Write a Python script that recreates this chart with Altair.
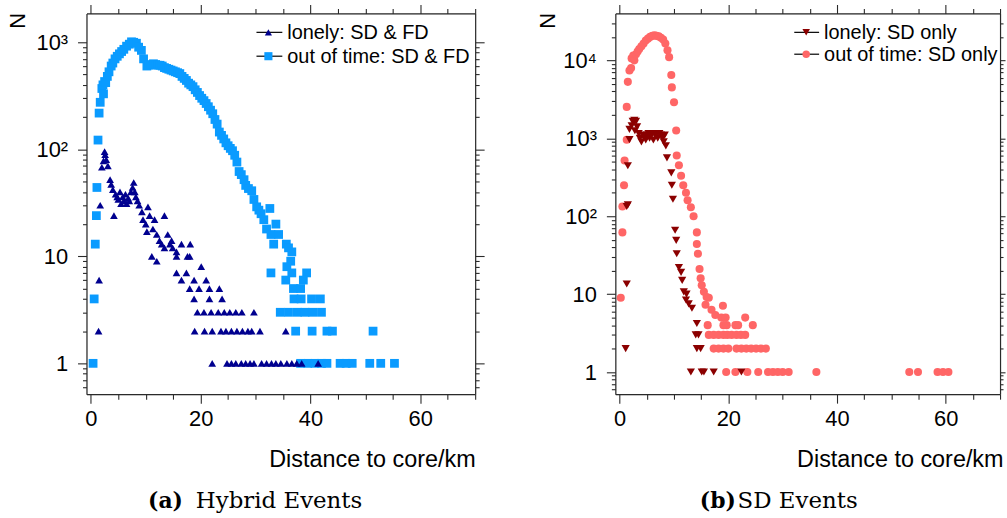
import altair as alt
import pandas as pd

# ---------------- data ----------------
# (a) Hybrid Events
A_OOT_X = [0.4, 0.6, 0.8, 1.0, 1.1, 1.3, 1.5, 1.7, 2.0, 2.2, 2.3, 2.5, 2.7, 3.0, 3.3, 3.7, 4.0, 4.4,
           4.8, 5.2, 5.6, 6.0, 6.5, 7.0, 7.4, 7.8, 8.3, 8.7, 9.2, 9.6, 10.2, 10.6, 11.0, 11.4, 11.8,
           12.2, 12.6, 13.0, 13.4, 13.8, 14.2, 14.6, 15.0, 15.4, 15.8, 16.2, 16.6, 17.0, 17.4, 17.8,
           18.2, 18.6, 19.0, 19.4, 19.8, 20.2, 20.6, 21.0, 21.4, 21.8, 22.2, 22.6, 23.0, 23.4, 23.8,
           24.2, 24.6, 25.0, 25.4, 25.8, 26.2, 26.6, 27.0, 27.4, 27.9, 28.2, 28.7, 29.3, 29.7, 30.2,
           30.6, 31.0, 31.5, 32.0, 32.6, 32.8, 33.3, 33.7, 34.2, 35.6, 36.0, 36.6, 36.4, 35.7, 32.8,
           36.6, 39.3, 35.5, 38.7, 36.9, 38.2, 37.0, 38.3, 40.2, 41.8, 34.5, 36.0, 37.6, 39.0, 40.4,
           42.0, 37.3, 40.3, 43.0, 44.0, 51.4, 38.2, 39.5, 40.8, 42.0, 43.0, 45.4, 46.5, 47.6, 50.8,
           52.8, 55.3]
A_OOT_N = [1, 4, 13, 24, 44, 122, 218, 275, 370, 400, 330, 430, 420, 480, 530, 600, 640, 700,
           740, 780, 820, 860, 920, 960, 1010, 1000, 980, 900, 840, 700, 600, 610, 620, 630, 620,
           610, 610, 600, 580, 570, 560, 550, 540, 530, 520, 510, 480, 460, 440, 415,
           400, 385, 360, 340, 318, 300, 285, 268, 250, 232, 215, 190, 172, 145, 135,
           125, 115, 108, 102, 97, 88, 76, 62, 58, 52, 46, 43, 41, 34, 29,
           27, 25, 22, 18, 28, 16, 13, 20, 16, 13, 12, 11, 9, 8, 7,
           7, 7, 6, 6, 5, 5, 4, 4, 4, 4, 3, 3, 3, 3, 3,
           3, 2, 2, 2, 2, 2, 1, 1, 1, 1, 1, 1, 1, 1, 1,
           1, 1]
A_LON_X = [1.4, 1.5, 1.7, 2.0, 2.3, 2.5, 2.6, 2.8, 3.1, 3.5, 3.7, 4.0, 4.2, 4.5, 4.8, 5.0, 5.3, 5.5,
           5.8, 6.0, 6.3, 6.5, 6.8, 7.0, 7.3, 7.6, 7.8, 8.0, 8.2, 8.5, 8.8, 9.3, 9.5, 10.0, 10.2,
           10.4, 10.7, 11.1, 11.3, 11.6, 12.0, 12.0, 12.5, 12.9, 13.4, 13.4, 14.0, 14.4, 14.7, 14.9,
           15.6, 15.6, 15.6, 16.5, 17.4, 17.6, 18.0, 18.1, 16.5, 18.8, 21.0, 20.1,
           18.0, 19.7, 21.6, 23.4, 18.8, 21.6, 23.9,
           19.4, 20.6, 21.9, 23.2, 24.3, 25.3, 26.4, 27.5, 29.7,
           18.9, 20.7, 22.1, 23.7, 24.6, 25.6, 26.6, 27.6, 28.6, 29.3, 30.8, 35.5,
           22.1, 24.8, 25.6, 26.4, 27.4, 28.2, 29.0, 29.7, 31.1, 32.0, 32.9, 33.7, 34.6, 35.7,
           36.6, 37.5, 38.4, 41.4]
A_LON_N = [2, 6, 30, 68, 78, 95, 89, 80, 70, 52, 47, 42, 24, 38, 36, 34, 40, 31,
           36, 33, 38, 31, 35, 33, 40, 44, 49, 40, 36, 33, 30, 26, 22, 20, 17,
           29, 24, 10, 18, 22, 16, 9, 14, 13, 24, 12, 16, 13, 14, 12,
           10, 11, 7, 13, 7, 10, 10, 13, 6, 6, 6, 8,
           5, 5, 5, 5, 4, 4, 4,
           3, 3, 3, 3, 3, 3, 3, 3, 3,
           2, 2, 2, 2, 2, 2, 2, 2, 2, 2, 2, 2,
           1, 1, 1, 1, 1, 1, 1, 1, 1, 1, 1, 1, 1, 1,
           1, 1, 1, 1]

# (b) SD Events
B_OOT_X = [0.2, 0.5, 0.5, 0.8, 0.9, 1.3, 1.3, 1.5, 1.8, 2.1, 2.2, 2.5, 2.7, 3.0, 3.3, 3.6, 4.0, 4.4,
           4.8, 5.2, 5.6, 6.0, 6.4, 6.8, 7.2, 7.6, 8.0, 8.4, 8.8, 9.1, 9.5, 9.6, 10.0, 10.4, 10.5,
           10.9, 11.3, 11.7, 12.2, 12.5, 13.1, 13.6, 14.2, 14.2, 14.4, 14.7, 14.9, 15.1, 15.5, 16.0,
           16.4, 15.8, 16.9, 19.0, 17.6, 18.7, 19.5, 23.1,
           16.2, 19.1, 19.7, 21.3, 21.8, 24.5,
           16.4, 17.3, 18.2, 19.1, 19.8, 20.6, 21.5, 22.3, 23.1,
           17.3, 18.2, 19.1, 20.0, 21.5, 22.4, 23.3, 24.2, 25.1, 26.0, 26.9,
           19.6, 21.3, 23.5, 25.5, 27.3, 28.2, 29.1, 30.0, 31.1, 36.2, 53.3, 54.9, 58.5, 59.5, 60.5]
B_OOT_N = [9, 62, 133, 250, 520, 960, 2530, 5300, 7400, 8000, 10600, 11500, 10000, 12000, 13000,
           14000, 15200, 16500, 18000, 19000, 20000, 20600, 21000, 20600, 20300, 19500, 18500,
           16500, 13500, 11000, 6500, 4500, 2900, 1260, 600,
           450, 330, 250, 200, 160, 130, 100, 62, 44, 33, 21, 16, 13, 10.7, 9.2,
           9, 7.3, 6.3, 7.1, 5.4, 5, 5, 5,
           4, 4, 4, 4, 4, 4,
           3, 3, 3, 3, 3, 3, 3, 3, 3,
           2, 2, 2, 2, 2, 2, 2, 2, 2, 2, 2,
           1, 1, 1, 1, 1, 1, 1, 1, 1, 1, 1, 1, 1, 1, 1]
B_LON_X = [1.1, 1.3, 1.3, 1.5, 1.5, 1.8, 1.8, 2.2, 2.4, 2.7, 3.0, 3.2, 2.8, 3.5, 3.7, 4.0, 4.2, 4.5,
           4.8, 5.0, 5.3, 5.5, 5.8, 6.0, 6.2, 6.5, 6.8, 7.0, 7.3, 7.6, 7.9, 8.1, 8.3, 8.5, 8.7,
           9.5, 9.6, 9.8, 10.2, 10.4, 10.5, 10.9, 11.3, 11.5, 11.8, 12.2, 12.3, 12.7, 13.3,
           14.2, 14.0, 14.5, 14.2, 14.9, 13.1, 15.1, 15.5, 17.3, 22.4]
B_LON_N = [2, 13.5, 133, 140, 445, 960, 1300, 1450, 1650, 1700, 1650, 1400, 1250, 1150, 1000, 900,
           1100, 1050, 950, 1100, 1150, 1000, 1100, 1150, 950, 1100, 1150, 1000, 1150, 1100,
           1000, 900, 1100, 800, 560,
           360, 250, 165, 66, 49, 33, 22, 19, 15, 10.7, 8.4, 10, 7.5, 6.6,
           4.2, 3, 3, 2, 2, 1, 1, 1, 1, 1]

A_SERIES = ["out of time: SD & FD", "lonely: SD & FD"]      # draw order
B_SERIES = ["out of time: SD only", "lonely: SD only"]
A_COLORS = ["#0a9bff", "#00008f"]
B_COLORS = ["#ff6666", "#8b0000"]
A_SHAPES = ["square", "triangle-up"]
B_SHAPES = ["circle", "triangle-down"]
A_SIZES = [78, 60]
B_SIZES = [66, 68]
CAPTIONS = [("(a)", "Hybrid Events"), ("(b)", "SD Events")]
X_TITLE = "Distance to core/km"
Y_TITLE = "N"

X_TICKS = [0, 5, 10, 15, 20, 25, 30, 35, 40, 45, 50, 55, 60, 65, 70]
Y_TICKS_A = [0.6, 0.7, 0.8, 0.9, 1, 2, 3, 4, 5, 6, 7, 8, 9, 10, 20, 30, 40, 50, 60, 70, 80, 90,
             100, 200, 300, 400, 500, 600, 700, 800, 900, 1000]
Y_TICKS_B = Y_TICKS_A + [2000, 3000, 4000, 5000, 6000, 7000, 8000, 9000, 10000, 20000, 30000]

FONT = "Liberation Sans"
INK = "#2a2a2a"

MAJ_X = "datum.value % 20 == 0"
MAJ_Y = "datum.value == 1 || datum.value == 10 || datum.value == 100 || datum.value == 1000 || datum.value == 10000"
Y_LABELS = ("datum.value == 10000 ? '10\u2074' : datum.value == 1000 ? '10\u00b3' : "
            "datum.value == 100 ? '10\u00b2' : datum.value == 10 ? '10' : datum.value == 1 ? '1' : ''")


def tick_size(test, big, small):
    return {"condition": {"test": test, "value": big}, "value": small}


def panel(xs_lists, ns_lists, series, colors, shapes, sizes, ydomain, yticks, w, h,
          leg, caption, cap_pos, xtitle_x, ytitle_x, right_tick):
    rows = []
    for s, xs, ns in zip(series, xs_lists, ns_lists):
        for x, n in zip(xs, ns):
            rows.append({"x": x, "n": n, "series": s})
    df = pd.DataFrame(rows)

    xscale = alt.Scale(domain=[-0.8, 70], nice=False, zero=False)
    yscale = alt.Scale(type="log", domain=ydomain, nice=False)

    common = dict(labelFont=FONT, labelColor="black", tickColor=INK, domainColor=INK,
                  tickWidth=1.1, domainWidth=1.2, grid=False, titleFont=FONT,
                  titleColor="black", titleFontWeight="normal", labelOverlap=False,
                  labelFlush=False)

    ax_bottom = alt.Axis(values=X_TICKS, labelExpr=f"{MAJ_X} ? datum.label : ''",
                         tickSize=tick_size(MAJ_X, 9, 5), labelFontSize=22, labelPadding=6,
                         title=X_TITLE, titleFontSize=23.5, titleAnchor="end", titleAlign="right",
                         titleX=xtitle_x, titleY=73, titleBaseline="alphabetic", **common)
    ax_left = alt.Axis(values=yticks, labelExpr=Y_LABELS, tickSize=tick_size(MAJ_Y, 9, 4),
                       labelFontSize=22, labelPadding=10, title=Y_TITLE, titleFontSize=22,
                       titleX=ytitle_x, titleY=7, titleAngle=270, titleAlign="center",
                       titleBaseline="middle", **common)
    ax_top = alt.Axis(values=X_TICKS, labels=False, tickSize=tick_size(MAJ_X, 9, 5),
                      orient="top", title=None, **common)
    ax_right = alt.Axis(values=yticks, labels=False,
                        tickSize=tick_size(MAJ_Y, right_tick[0], right_tick[1]),
                        orient="right", title=None, **common)

    pts = alt.Chart(df).mark_point(filled=True, opacity=1, strokeWidth=0).encode(
        x=alt.X("x:Q", scale=xscale, axis=ax_bottom),
        y=alt.Y("n:Q", scale=yscale, axis=ax_left),
        color=alt.Color("series:N", scale=alt.Scale(domain=series, range=colors), legend=None),
        shape=alt.Shape("series:N", scale=alt.Scale(domain=series, range=shapes), legend=None),
        size=alt.Size("series:N", scale=alt.Scale(domain=series, range=sizes), legend=None),
        order=alt.Order("o:Q"),
    ).transform_calculate(o=f"datum.series == '{series[1]}' ? 1 : 0")

    mirror = alt.Chart(df).mark_point(opacity=0).encode(
        x=alt.X("x:Q", scale=xscale, axis=ax_top),
        y=alt.Y("n:Q", scale=yscale, axis=ax_right),
    )

    layers = [pts, mirror]
    # legend: lonely first, then out of time (one row of data per entry)
    lx0, lx1, mx, tx, ys = leg
    legend_order = [1, 0]
    for row, k in enumerate(legend_order):
        y = ys[row]
        one = pd.DataFrame({"label": [series[k]]})
        layers.append(alt.Chart(one).mark_rule(color="black", strokeWidth=1.2).encode(
            x=alt.value(lx0), x2=alt.value(lx1), y=alt.value(y)))
        layers.append(alt.Chart(one).mark_point(filled=True, opacity=1, strokeWidth=0,
                                                shape=shapes[k], size=sizes[k] * 0.85,
                                                color=colors[k]).encode(
            x=alt.value(mx), y=alt.value(y)))
        layers.append(alt.Chart(one).mark_text(align="left", baseline="middle", font=FONT,
                                               fontSize=20, color="black").encode(
            x=alt.value(tx), y=alt.value(y + 1), text=alt.Text("label:N")))

    cap = pd.DataFrame({"a": [caption[0]], "b": [caption[1]]})
    cx_bold, cx_norm, cy = cap_pos
    layers.append(alt.Chart(cap).mark_text(align="left", baseline="middle", font="DejaVu Serif",
                                           fontSize=22, fontWeight="bold", color="black").encode(
        x=alt.value(cx_bold), y=alt.value(cy), text=alt.Text("a:N")))
    layers.append(alt.Chart(cap).mark_text(align="left", baseline="middle", font="DejaVu Serif",
                                           fontSize=23, color="black").encode(
        x=alt.value(cx_norm), y=alt.value(cy), text=alt.Text("b:N")))

    return alt.layer(*layers).resolve_axis(x="independent", y="independent").properties(
        width=w, height=h)


left = panel([A_OOT_X, A_LON_X], [A_OOT_N, A_LON_N], A_SERIES, A_COLORS, A_SHAPES, A_SIZES,
             [0.515, 1860], Y_TICKS_A, 391, 383,
             (171, 197, 183, 202, [19, 43]), CAPTIONS[0], (62, 110, 490), 391, -69, (9, 4))
right = panel([B_OOT_X, B_LON_X], [B_OOT_N, B_LON_N], B_SERIES, B_COLORS, B_SHAPES, B_SIZES,
              [0.52, 40000], Y_TICKS_B, 387, 383,
              (180, 205, 192, 210, [19, 41]), CAPTIONS[1], (85, 123, 490), 390, -68, (5, 3))

chart = alt.hconcat(left, right, spacing=50).resolve_scale(
    color="independent", shape="independent", size="independent"
).properties(
    padding={"left": 6, "top": 1, "right": 0, "bottom": 0}
).configure_view(stroke=INK, strokeWidth=1.2).configure(background="white")

chart.save("out.html", embed_options={"renderer": "svg", "actions": False})
